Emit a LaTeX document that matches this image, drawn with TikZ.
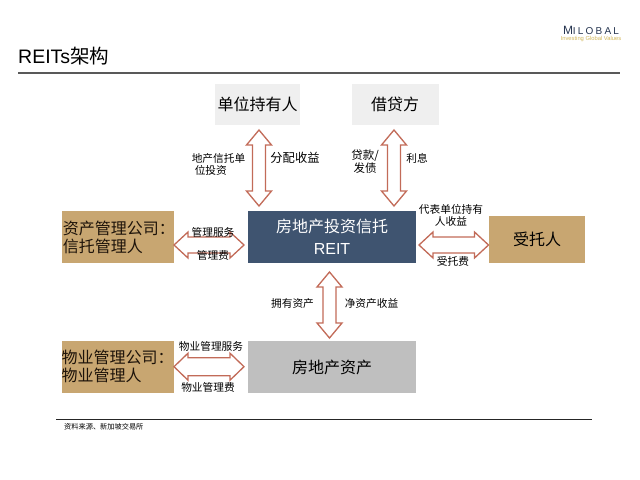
\documentclass[tikz,border=0pt]{standalone}
\usepackage{fontspec}
\setmainfont{Noto Sans CJK SC}
\newfontfamily\latinf{Liberation Sans}
\newfontfamily\logof[LetterSpace=22]{Liberation Sans}
\usetikzlibrary{calc}
\definecolor{tanbox}{HTML}{C8A671}
\definecolor{navybox}{HTML}{3F5470}
\definecolor{lightbox}{HTML}{EFEFEF}
\definecolor{greybox}{HTML}{BFBFBF}
\definecolor{arrowline}{HTML}{C26B58}
\definecolor{logoblue}{HTML}{25344F}
\newcommand{\fs}[1]{\fontsize{#1bp}{#1bp}\selectfont}
% block double arrow between two named coordinates: {from}{to}{head half width}{body half width}{head length}
\newcommand{\blockarr}[5]{%
  \draw[blockarrow]
    (#1)
    -- ($($(#1)!#5bp!(#2)$)!#3bp!90:(#2)$)
    -- ($($(#1)!#5bp!(#2)$)!#4bp!90:(#2)$)
    -- ($($(#2)!#5bp!(#1)$)!#4bp!-90:(#1)$)
    -- ($($(#2)!#5bp!(#1)$)!#3bp!-90:(#1)$)
    -- (#2)
    -- ($($(#2)!#5bp!(#1)$)!#3bp!90:(#1)$)
    -- ($($(#2)!#5bp!(#1)$)!#4bp!90:(#1)$)
    -- ($($(#1)!#5bp!(#2)$)!#4bp!-90:(#2)$)
    -- ($($(#1)!#5bp!(#2)$)!#3bp!-90:(#2)$)
    -- cycle;}
\tikzset{
  x=1bp,y=-1bp,
  box/.style={anchor=north west,inner sep=0pt,outer sep=0pt,align=center},
  bigtext/.style={font=\fs{16}},
  smalltext/.style={font=\fs{10.7},inner sep=0pt,align=center},
  blockarrow/.style={draw=arrowline,fill=white,line width=1.3bp,line join=miter},
}
\begin{document}
\begin{tikzpicture}
\useasboundingbox (0,0) rectangle (640,480);
\fill[white] (0,0) rectangle (640,480);
% logo
\node[inner sep=0pt,text=logoblue] (logo) at (591,30.5) {\logof\fs{12}M\fs{10}ILOBAL};
\node[inner sep=0pt,text=tanbox!80!yellow] (tag) at (591,39) {\latinf\fs{5.8}Investing Global Values};
% title
\node[inner sep=0pt,anchor=west] (title) at (18,56) {\fs{19.5}{\latinf REITs}架构};
\coordinate (tl) at (18,73.5);
\coordinate (tr) at (620,73.5);
\draw[line width=2bp,draw=black!65] (tl) -- (tr);
% boxes
\node[box,bigtext,fill=lightbox,minimum width=85bp,minimum height=41bp] (holder) at (215,84) {单位持有人};
\node[box,bigtext,fill=lightbox,minimum width=87bp,minimum height=41bp] (lender) at (351.5,84) {借贷方};
\node[box,bigtext,fill=tanbox,minimum width=112.5bp,minimum height=52bp,text width=110bp,align=left,text=black!85!brown] (am) at (61.5,211) {资产管理公司：\\[2bp]信托管理人};
\node[box,bigtext,fill=navybox,minimum width=168bp,minimum height=52bp,text=white] (reit) at (248,211) {房地产投资信托\\[6bp]{\latinf REIT}};
\node[box,bigtext,fill=tanbox,minimum width=96bp,minimum height=47bp] (trustee) at (489,216) {受托人};
\node[box,bigtext,fill=greybox,minimum width=168bp,minimum height=52bp] (asset) at (248,341) {房地产资产};
\node[box,bigtext,fill=tanbox,minimum width=112.5bp,minimum height=52bp,text width=112.5bp,align=left,text=black!85!brown] (pm) at (61.5,341) {物业管理公司：\\[2bp]物业管理人\\[-13bp]\mbox{}};
% arrow ends
\coordinate (a1t) at ($(holder.south)+(1.5,5)$);
\coordinate (a1b) at ($(reit.north west)+(11,-5)$);
\coordinate (a2t) at ($(lender.south)+(-1,5)$);
\coordinate (a2b) at ($(reit.north east)+(-22,-5)$);
\coordinate (a3t) at ($(reit.south)+(-2.5,9)$);
\coordinate (a3b) at ($(asset.north)+(-2.5,-3)$);
\coordinate (a4l) at ($(am.east)+(0,8)$);
\coordinate (a4r) at ($(reit.west)+(-4,8)$);
\coordinate (a5l) at ($(reit.east)+(3,8)$);
\coordinate (a5r) at ($(trustee.west)+(-0.5,5.5)$);
\coordinate (a6l) at ($(pm.east)+(0,-0.3)$);
\coordinate (a6r) at ($(asset.west)+(-4,-0.3)$);
% arrows
\blockarr{a1t}{a1b}{12.5}{6.5}{15}
\blockarr{a2t}{a2b}{12.5}{6.5}{15}
\blockarr{a3t}{a3b}{12.5}{6.5}{15}
\blockarr{a4l}{a4r}{13}{8}{14}
\blockarr{a5l}{a5r}{13}{8}{14}
\blockarr{a6l}{a6r}{13.5}{9}{14}
% labels
\node[smalltext,align=left] (l1) at (218.5,164) {地产信托单\\[1.3bp]\hspace*{3bp}位投资};
\node[smalltext,font=\fs{12.3}] (l2) at (295,158) {分配收益};
\node[smalltext,font=\fs{11.5}] (l3) at (365,162) {贷款/\\[0.5bp]发债};
\node[smalltext] (l4) at (417,158) {利息};
\node[smalltext] (l5) at (451,215) {代表单位持有\\[1.3bp]人收益};
\node[smalltext] (l6) at (453,261) {受托费};
\node[smalltext] (l7) at (213,232) {管理服务};
\node[smalltext] (l8) at (213,255) {管理费};
\node[smalltext] (l9) at (292.5,303) {拥有资产};
\node[smalltext] (l10) at (371.5,303) {净资产收益};
\node[smalltext] (l11) at (211,346) {物业管理服务};
\node[smalltext] (l12) at (208,387.5) {物业管理费};
% footer
\coordinate (fl) at (56,419.5);
\coordinate (fr) at (592,419.5);
\draw[line width=0.9bp,draw=black!85] (fl) -- (fr);
\node[inner sep=0pt,anchor=west] (src) at (64,426.5) {\fs{7.2}资料来源、新加坡交易所};
\end{tikzpicture}
\end{document}
